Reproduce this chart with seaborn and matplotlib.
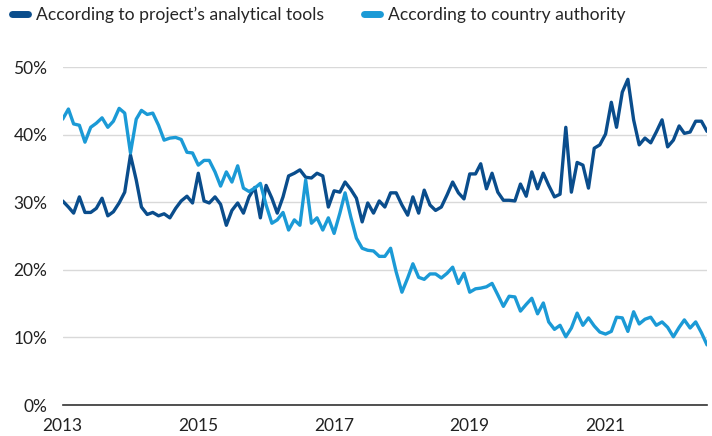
import pandas as pd
import matplotlib.pyplot as plt
import matplotlib.dates as mdates
import seaborn as sns
from matplotlib.ticker import FuncFormatter

# monthly data, Jan 2013 - Jul 2022 (share, %)
project_tools = [
    30.2, 29.3, 28.4, 30.8, 28.5, 28.5, 29.1, 30.6, 28.0, 28.6, 29.9, 31.5,
    37.0, 33.3, 29.3, 28.2, 28.5, 28.0, 28.3, 27.7, 29.1, 30.2, 30.9, 29.9,
    34.3, 30.2, 29.9, 30.8, 29.7, 26.6, 28.8, 29.9, 28.4, 30.8, 32.2, 27.7,
    32.5, 30.6, 28.4, 30.8, 33.9, 34.3, 34.8, 33.7, 33.6, 34.3, 33.9, 29.3,
    31.7, 31.5, 33.0, 31.9, 30.6, 27.1, 29.9, 28.4, 30.2, 29.3, 31.4, 31.4,
    29.6, 28.1, 30.8, 28.4, 31.8, 29.6, 28.8, 29.3, 31.1, 33.0, 31.4, 30.5,
    34.2, 34.2, 35.7, 32.0, 34.3, 31.5, 30.3, 30.3, 30.2, 32.7, 30.9, 34.5,
    32.0, 34.3, 32.5, 30.8, 31.2, 41.1, 31.5, 35.9, 35.5, 32.1, 38.0, 38.5,
    40.1, 44.8, 41.1, 46.3, 48.2, 42.2, 38.5, 39.5, 38.8, 40.4, 42.2, 38.2,
    39.2, 41.3, 40.2, 40.4, 42.0, 42.0, 40.5,
]
country_authority = [
    42.3, 43.8, 41.6, 41.4, 38.9, 41.1, 41.7, 42.5, 41.1, 42.0, 43.9, 43.2,
    37.3, 42.3, 43.6, 43.0, 43.2, 41.4, 39.2, 39.5, 39.6, 39.3, 37.4, 37.3,
    35.5, 36.2, 36.2, 34.5, 32.4, 34.5, 33.0, 35.4, 32.1, 31.6, 32.1, 32.8,
    29.6, 26.9, 27.4, 28.5, 25.9, 27.4, 26.6, 33.3, 26.9, 27.7, 25.9, 27.7,
    25.4, 28.4, 31.4, 27.8, 24.7, 23.2, 22.9, 22.8, 22.0, 22.0, 23.2, 19.7,
    16.7, 18.8, 20.9, 18.9, 18.6, 19.4, 19.4, 18.8, 19.5, 20.4, 18.0, 19.5,
    16.7, 17.2, 17.3, 17.5, 18.0, 16.3, 14.6, 16.1, 16.0, 13.9, 14.9, 15.8,
    13.5, 15.1, 12.3, 11.2, 11.8, 10.1, 11.4, 13.6, 11.8, 12.9, 11.7, 10.8,
    10.5, 10.9, 13.0, 12.9, 10.9, 13.8, 12.0, 12.7, 13.0, 11.8, 12.3, 11.5,
    10.1, 11.5, 12.6, 11.4, 12.3, 10.7, 8.9,
]
dates = pd.date_range("2013-01-01", periods=len(project_tools), freq="MS")
series_names = ["According to project\u2019s analytical tools", "According to country authority"]
colors = ["#0a4d8c", "#1b9ad6"]

df = pd.DataFrame({"date": dates, series_names[0]: project_tools, series_names[1]: country_authority})
long_df = df.melt(id_vars="date", var_name="series", value_name="share")

sns.set_style("white")
plt.rcParams['font.family'] = ['Lato', 'DejaVu Sans']

fig, ax = plt.subplots(figsize=(7.12, 4.36), dpi=100)
fig.subplots_adjust(left=0.088, right=0.993, top=0.846, bottom=0.071)

sns.lineplot(data=long_df, x="date", y="share", hue="series", palette=colors,
             linewidth=2.4, ax=ax, legend=False)

ax.set_ylim(0, 50)
ax.set_xlim(dates[0], dates[-1])
ax.set_yticks([0, 10, 20, 30, 40, 50])
ax.yaxis.set_major_formatter(FuncFormatter(lambda v, p: f"{v:.0f}%"))
ax.grid(axis="y", color="#d9d9d9", linewidth=1)
ax.set_axisbelow(True)

ax.xaxis.set_major_locator(mdates.YearLocator(1))
ax.xaxis.set_major_formatter(FuncFormatter(
    lambda v, p: str(mdates.num2date(v).year) if mdates.num2date(v).year % 2 == 1 else ""))

for s in ["top", "right", "left"]:
    ax.spines[s].set_visible(False)
ax.spines["bottom"].set_color("#333333")
ax.spines["bottom"].set_linewidth(1.2)
ax.tick_params(axis="x", direction="out", length=6, width=1.2, color="#333333",
               labelsize=12.5, labelcolor="#222222", pad=3)
ax.tick_params(axis="y", length=0, labelsize=12.5, labelcolor="#222222", pad=11)
ax.set_xlabel("")
ax.set_ylabel("")

handles = [plt.Line2D([0], [0], color=c, linewidth=5) for c in colors]
fig.legend(handles, series_names, loc="upper left", bbox_to_anchor=(0.0, 1.012),
           ncol=2, frameon=False, fontsize=12.6, handlelength=0.9, handletextpad=0.45,
           columnspacing=2.3, borderaxespad=0.3)

plt.savefig("out.png", dpi=100)
